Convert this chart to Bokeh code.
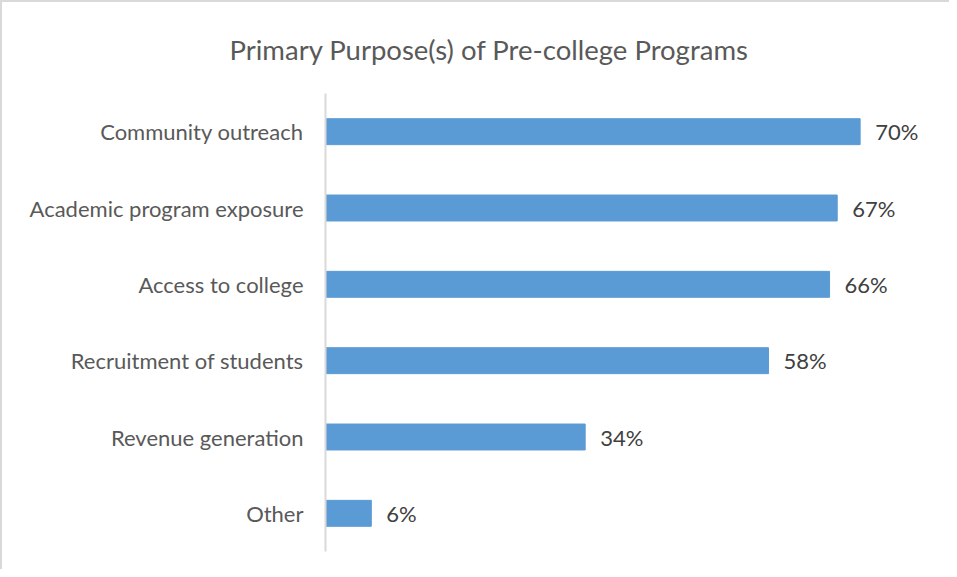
from bokeh.plotting import figure
from bokeh.models import FactorRange, Range1d, ColumnDataSource, LabelSet, Title
from bokeh.core.properties import value
from bokeh.embed import file_html
from bokeh.resources import INLINE

categories = ["Community outreach", "Academic program exposure", "Access to college",
              "Recruitment of students", "Revenue generation", "Other"]
values = [70, 67, 66, 58, 34, 6]
value_labels = ["70%", "67%", "66%", "58%", "34%", "6%"]

FONT = "Lato"
W, H = 949, 569

src = ColumnDataSource(data=dict(cat=categories, val=values, lab=value_labels))

p = figure(width=W, height=H, output_backend="svg", toolbar_location=None,
           y_range=FactorRange(factors=list(reversed(categories)), range_padding=0),
           x_range=Range1d(0, 80),
           min_border_left=323, min_border_right=15, min_border_top=91, min_border_bottom=20)

p.hbar(y="cat", right="val", height=0.34, source=src, color="#5B9BD5")

labels = LabelSet(x="val", y="cat", text="lab", source=src, x_offset=15,
                  text_baseline="middle", text_font=value(FONT), text_font_size="22px",
                  text_color="#404040")
p.add_layout(labels)

title = Title(text="Primary Purpose(s) of Pre-college Programs", align="left",
              vertical_align="top", offset=-96, standoff=51, text_font=FONT,
              text_font_size="27.5px", text_font_style="normal", text_color="#595959")
p.add_layout(title, "above")

p.xaxis.visible = False
p.xgrid.visible = False
p.ygrid.visible = False
p.outline_line_color = None
ax = p.yaxis[0]
ax.axis_line_color = "#D9D9D9"
ax.axis_line_width = 2
ax.major_tick_line_color = None
ax.minor_tick_line_color = None
ax.major_label_text_font = FONT
ax.major_label_text_font_size = "22px"
ax.major_label_text_color = "#595959"
ax.major_label_standoff = 16
p.styles = {"border-left": "2px solid #D9D9D9", "border-top": "2px solid #D9D9D9"}

open("out.html", "w").write(file_html(p, INLINE))
